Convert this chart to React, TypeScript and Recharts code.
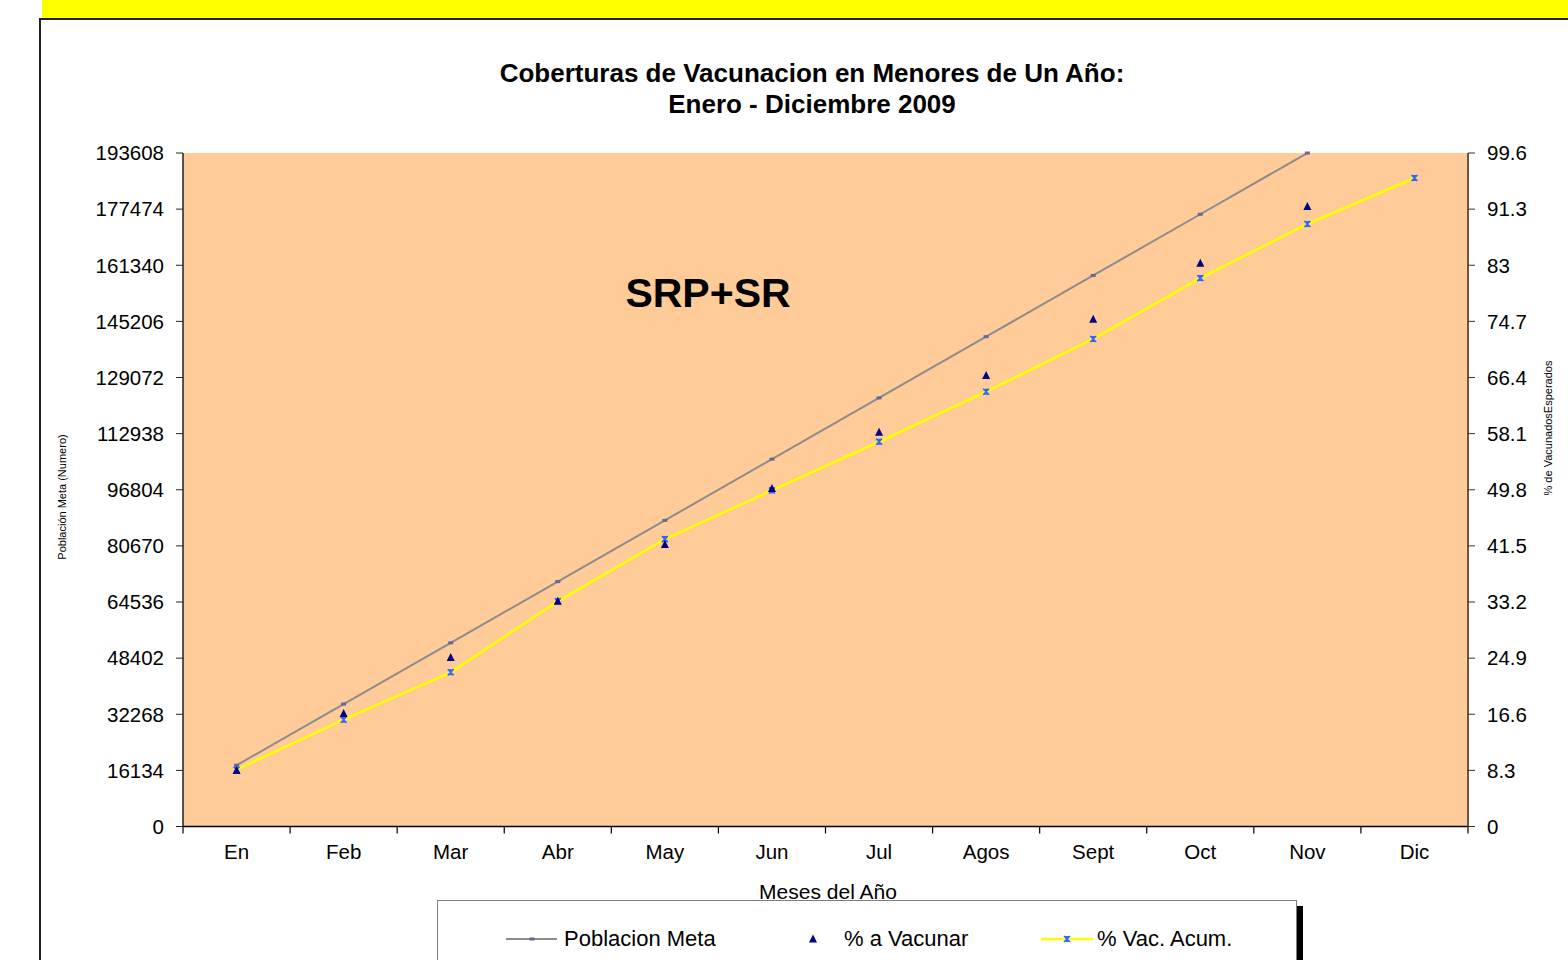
import { CartesianGrid, ComposedChart, Legend, Line, XAxis, YAxis } from "recharts"

const months = ["En", "Feb", "Mar", "Abr", "May", "Jun", "Jul", "Agos", "Sept", "Oct", "Nov", "Dic"]
const poblacionMeta = [17600, 35200, 52800, 70400, 88000, 105600, 123200, 140800, 158400, 176000, 193600, null]
const pctVacunar = [8.3, 16.7, 25, 33.3, 41.7, 50, 58.3, 66.7, 75, 83.3, 91.7, null]
const pctVacAcum = [8.4, 15.8, 22.8, 33.3, 42.5, 49.7, 56.9, 64.3, 72.1, 81.1, 89.1, 95.9]
const leftTicks = [0, 16134, 32268, 48402, 64536, 80670, 96804, 112938, 129072, 145206, 161340, 177474, 193608]
const rightTicks = [0, 8.3, 16.6, 24.9, 33.2, 41.5, 49.8, 58.1, 66.4, 74.7, 83, 91.3, 99.6]

const W = 1568
const H = 960
const FONT = "'Liberation Sans', Arial, sans-serif"

function MetaDot(props: any) {
  const { cx, cy } = props
  if (cx == null || cy == null) return null
  return <rect x={cx - 2.5} y={cy - 1.5} width={5} height={3} fill="#666699" />
}

function TriangleDot(props: any) {
  const { cx, cy } = props
  if (cx == null || cy == null) return null
  return <path d={`M${cx},${cy - 4.5} L${cx + 4},${cy + 3.5} L${cx - 4},${cy + 3.5} Z`} fill="#000080" />
}

function CrossDot(props: any) {
  const { cx, cy } = props
  if (cx == null || cy == null) return null
  return (
    <g>
      <path d={`M${cx - 3},${cy - 3} L${cx + 3},${cy - 3} L${cx},${cy} Z M${cx - 3},${cy + 3} L${cx + 3},${cy + 3} L${cx},${cy} Z`} fill="#3366ff" />
      <path d={`M${cx - 3},${cy - 3} L${cx + 3},${cy + 3} M${cx + 3},${cy - 3} L${cx - 3},${cy + 3}`} stroke="#3366ff" strokeWidth={1.5} />
    </g>
  )
}

function MonthTick(props: any) {
  const { x, y, payload, index } = props
  const half = payload.offset ?? 53.5
  return (
    <g>
      <line x1={x - half} x2={x - half} y1={y - 16} y2={y - 9} stroke="#000" strokeWidth={1.2} />
      {index === months.length - 1 && (
        <line x1={x + half} x2={x + half} y1={y - 16} y2={y - 9} stroke="#000" strokeWidth={1.2} />
      )}
      <text x={x} y={y} dy={16} textAnchor="middle" fontSize={20.5} fill="#000">
        {payload.value}
      </text>
    </g>
  )
}

function LegendBox() {
  const item = (left: number, top: number, label: string) => (
    <span style={{ position: "absolute", left, top, fontSize: 22, lineHeight: "24px", color: "#000", whiteSpace: "nowrap" }}>{label}</span>
  )
  return (
    <div
      style={{
        position: "relative",
        width: 860,
        height: 70,
        boxSizing: "border-box",
        border: "1px solid #7f7f7f",
        background: "#fff",
        boxShadow: "6px 6px 0 0 #000",
        fontFamily: FONT,
      }}
    >
      <svg width={860} height={70} style={{ position: "absolute", left: 0, top: 0 }}>
        <line x1={68} x2={119} y1={38} y2={38} stroke="#8c8c8c" strokeWidth={2} />
        <MetaDot cx={94} cy={38} />
        <TriangleDot cx={375} cy={38} />
        <line x1={603} x2={655} y1={38} y2={38} stroke="#ffff00" strokeWidth={2.5} />
        <CrossDot cx={629} cy={38} />
      </svg>
      {item(126, 26, "Poblacion Meta")}
      {item(406, 26, "% a Vacunar")}
      {item(659, 26, "% Vac. Acum.")}
    </div>
  )
}

export default function App() {
  const data = months.map((m, i) => ({
    month: m,
    meta: poblacionMeta[i],
    vacunar: pctVacunar[i],
    acum: pctVacAcum[i],
  }))

  return (
    <div style={{ position: "fixed", left: 0, top: 0, width: W, height: H, background: "#fff", overflow: "hidden", fontFamily: FONT }}>
      <div style={{ position: "absolute", left: 42, top: 0, width: W - 42, height: 18, background: "#ffff00" }} />
      <div style={{ position: "absolute", left: 39, top: 18, width: W, height: H, borderLeft: "2px solid #222", borderTop: "2px solid #222" }} />

      <div style={{ position: "absolute", left: 0, top: 0 }}>
        <ComposedChart width={W} height={H} data={data} margin={{ top: 153, right: 0, bottom: 103.5, left: 83 }}>
          <CartesianGrid yAxisId="left" horizontal={false} vertical={false} fill="#ffcc99" />
          <XAxis
            dataKey="month"
            scale="band"
            height={30}
            axisLine={{ stroke: "#000", strokeWidth: 1.5 }}
            tickLine={false}
            tickSize={7}
            tickMargin={9}
            interval={0}
            tick={<MonthTick />}
          />
          <YAxis
            yAxisId="left"
            width={100}
            domain={[0, 193608]}
            ticks={leftTicks}
            interval={0}
            axisLine={{ stroke: "#222", strokeWidth: 1.5 }}
            tickLine={{ stroke: "#222" }}
            tickSize={7}
            tickMargin={12}
            tick={{ fontSize: 20.5, fill: "#000" }}
          />
          <YAxis
            yAxisId="right"
            orientation="right"
            width={100}
            domain={[0, 99.6]}
            ticks={rightTicks}
            interval={0}
            axisLine={{ stroke: "#6b5740", strokeWidth: 2 }}
            tickLine={{ stroke: "#333" }}
            tickSize={7}
            tickMargin={12}
            tick={{ fontSize: 20.5, fill: "#000" }}
          />
          <Legend
            layout="horizontal"
            verticalAlign="middle"
            align="center"
            wrapperStyle={{ left: 437, top: 900, width: 860, height: 70 }}
            content={<LegendBox />}
          />
          <Line
            yAxisId="left"
            dataKey="meta"
            name="Poblacion Meta"
            stroke="#8c8c8c"
            strokeWidth={2}
            dot={<MetaDot />}
            activeDot={false}
            isAnimationActive={false}
          />
          <Line
            yAxisId="right"
            dataKey="acum"
            name="% Vac. Acum."
            stroke="#ffff00"
            strokeWidth={2.5}
            dot={<CrossDot />}
            activeDot={false}
            isAnimationActive={false}
          />
          <Line
            yAxisId="right"
            dataKey="vacunar"
            name="% a Vacunar"
            stroke="none"
            dot={<TriangleDot />}
            activeDot={false}
            isAnimationActive={false}
          />
        </ComposedChart>
      </div>

      <div style={{ position: "absolute", left: 312, width: 1000, top: 58, textAlign: "center", fontSize: 26, fontWeight: "bold", lineHeight: "31px", color: "#000" }}>
        Coberturas de Vacunacion en Menores de Un Año:
        <br />
        Enero - Diciembre 2009
      </div>
      <div style={{ position: "absolute", left: 508, width: 400, top: 269, textAlign: "center", fontSize: 41, fontWeight: "bold", lineHeight: "48px", color: "#000" }}>
        SRP+SR
      </div>
      <div style={{ position: "absolute", left: 628, width: 400, top: 880, textAlign: "center", fontSize: 21, lineHeight: "24px", color: "#000" }}>
        Meses del Año
      </div>
      <svg width={W} height={H} style={{ position: "absolute", left: 0, top: 0, pointerEvents: "none" }}>
        <text x={62} y={497} transform="rotate(-90 62 497)" textAnchor="middle" dominantBaseline="central" fontSize={11} fill="#000">
          Población Meta (Numero)
        </text>
        <text x={1548} y={428} transform="rotate(-90 1548 428)" textAnchor="middle" dominantBaseline="central" fontSize={11} fill="#000">
          % de VacunadosEsperados
        </text>
      </svg>
    </div>
  )
}
